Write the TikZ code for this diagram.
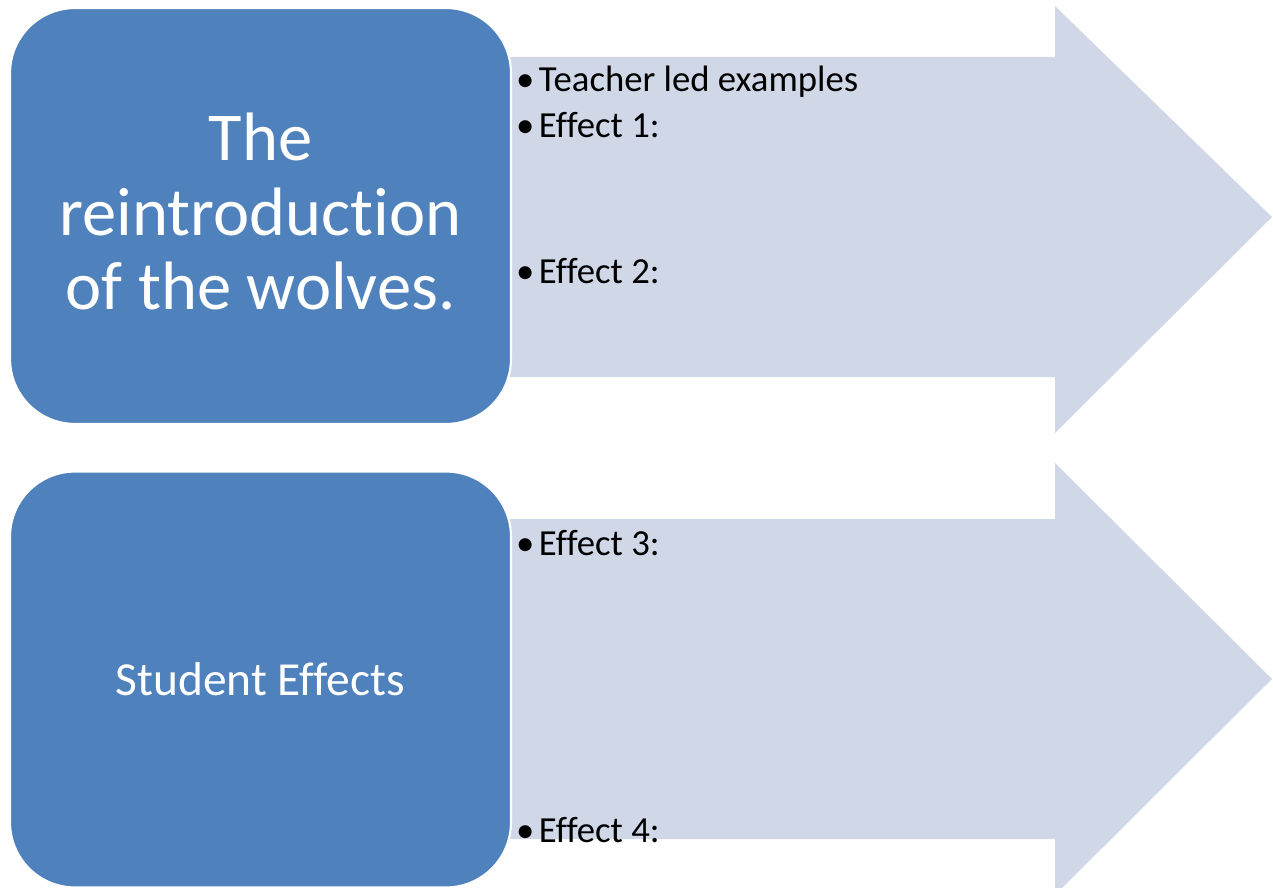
\documentclass[tikz,border=0pt]{standalone}
\usepackage{fontspec}
\setmainfont{Carlito}[Ligatures=NoCommon]
\definecolor{topicblue}{HTML}{4F81BD}
\definecolor{bandgrey}{HTML}{D0D8E8}

\begin{document}
\begin{tikzpicture}[x=0.02cm, y=-0.02cm,
  every node/.style = {inner sep=0pt, outer sep=0pt},
  topic/.style = {shape=rectangle, rounded corners=1.3cm,
    fill=topicblue, draw=white, line width=1.2pt,
    text=white, align=center,
    minimum width=10.02cm, minimum height=8.32cm},
  effect/.style = {anchor=base west,
    font=\fontsize{20.9}{24}\selectfont},
  band/.style = {fill=bandgrey}]
  \clip (0,0) rectangle (1273,888);
  % arrows behind the boxes
  \fill[band] (505,57) -- (1055,57) -- (1055,6) -- (1272,217)
    -- (1055,433) -- (1055,377) -- (505,377) -- cycle;
  \fill[band] (505,519) -- (1055,519) -- (1055,463) -- (1272,679)
    -- (1055,895) -- (1055,839) -- (505,839) -- cycle;
  % topic boxes
  \node[topic, font=\fontsize{39}{42.5}\selectfont] (wolves) at (260.5,216)
    {The\\reintroduction\\of the wolves.\vspace{5pt}};
  \node[topic, font=\fontsize{27}{32}\selectfont] (student) at (260.5,679.5)
    {Student Effects};
  % bullet lines
  \node[effect] (teacher) at (516,92)
    {\makebox[0.46cm][l]{\textbullet}Teacher led examples};
  \node[effect] (effA) at (516,138)
    {\makebox[0.46cm][l]{\textbullet}Effect 1:};
  \node[effect] (effB) at (516,283)
    {\makebox[0.46cm][l]{\textbullet}Effect 2:};
  \node[effect] (effC) at (516,555)
    {\makebox[0.46cm][l]{\textbullet}Effect 3:};
  \node[effect] (effD) at (516,842)
    {\makebox[0.46cm][l]{\textbullet}Effect 4:};
\end{tikzpicture}
\end{document}
